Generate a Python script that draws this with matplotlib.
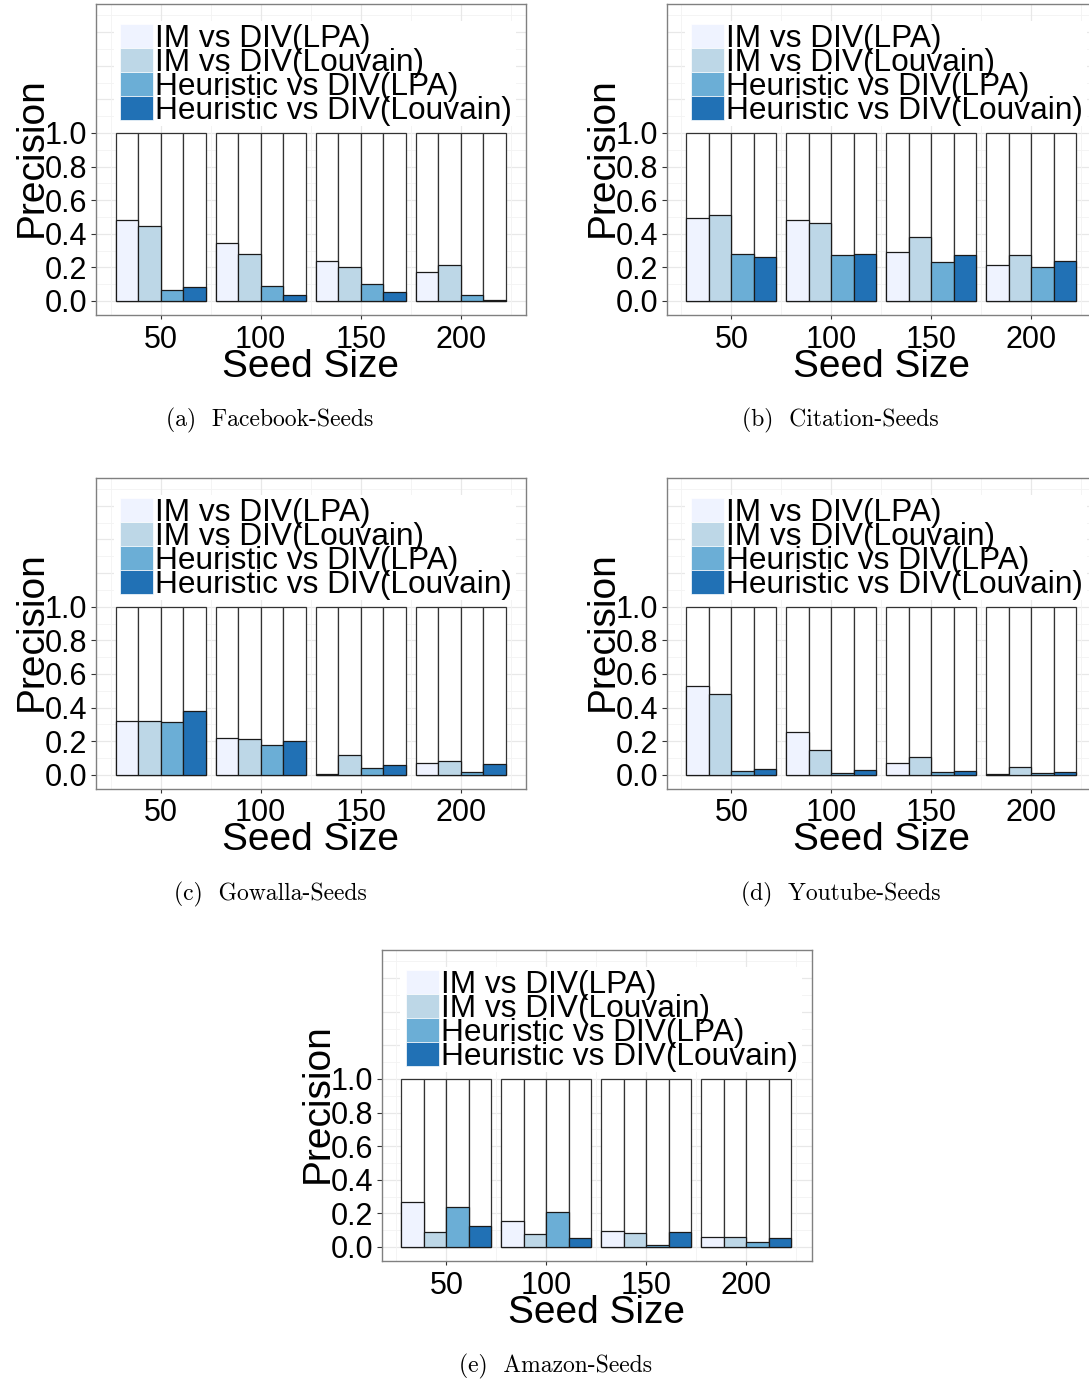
import matplotlib
matplotlib.use("Agg")
import matplotlib.pyplot as plt
from matplotlib.patches import Rectangle

# ---------------- data ----------------
seed_sizes = ["50", "100", "150", "200"]
series_names = ["IM vs DIV(LPA)", "IM vs DIV(Louvain)",
                "Heuristic vs DIV(LPA)", "Heuristic vs DIV(Louvain)"]
series_colors = ["#EFF3FF", "#BDD7E7", "#6BAED6", "#2171B5"]

# rows: seed sizes 50,100,150,200 ; columns: the four series
facebook = [[0.485, 0.447, 0.063, 0.083],
            [0.343, 0.277, 0.089, 0.036],
            [0.238, 0.202, 0.103, 0.051],
            [0.170, 0.212, 0.036, 0.008]]
citation = [[0.497, 0.509, 0.281, 0.263],
            [0.481, 0.463, 0.273, 0.277],
            [0.291, 0.378, 0.232, 0.271],
            [0.212, 0.271, 0.202, 0.240]]
gowalla = [[0.317, 0.321, 0.313, 0.380],
           [0.220, 0.210, 0.174, 0.202],
           [0.004, 0.117, 0.040, 0.059],
           [0.071, 0.081, 0.018, 0.063]]
youtube = [[0.529, 0.479, 0.024, 0.034],
           [0.255, 0.149, 0.008, 0.030],
           [0.071, 0.103, 0.014, 0.022],
           [0.004, 0.044, 0.010, 0.018]]
amazon = [[0.265, 0.091, 0.240, 0.127],
          [0.154, 0.075, 0.210, 0.051],
          [0.093, 0.083, 0.010, 0.087],
          [0.059, 0.059, 0.028, 0.051]]

captions = ["(a)  Facebook-Seeds", "(b)  Citation-Seeds", "(c)  Gowalla-Seeds",
            "(d)  Youtube-Seeds", "(e)  Amazon-Seeds"]
datasets = [facebook, citation, gowalla, youtube, amazon]
yticks = [0.0, 0.2, 0.4, 0.6, 0.8, 1.0]
ytick_labels = ["0.0", "0.2", "0.4", "0.6", "0.8", "1.0"]

# ---------------- layout (pixels) ----------------
W, H = 1089, 1380
PW, PH = 430, 311
panels = [(96, 4), (666.7, 4), (96, 477.7), (666.7, 477.7), (381.7, 950)]

SANS = "Liberation Sans"
fig = plt.figure(figsize=(W / 100, H / 100), dpi=100)
fig.patch.set_facecolor("white")

y_lo, y_hi = -14 / 168, 297 / 168
x_lo = 1 - 64.7 / 100
x_hi = x_lo + PW / 100


def ax_frac(ax_left, ax_top, px, py):
    return (px - ax_left) / PW, 1 - (py - ax_top) / PH


for (L, T), data, cap in zip(panels, datasets, captions):
    ax = fig.add_axes([L / W, 1 - (T + PH) / H, PW / W, PH / H])
    ax.set_xlim(x_lo, x_hi)
    ax.set_ylim(y_lo, y_hi)
    ax.set_facecolor("white")

    # grid
    for i in range(0, 18):
        yv = i * 0.1
        major = (i % 2 == 0)
        ax.axhline(yv, color="#e8e8e8" if major else "#f3f3f3",
                   lw=0.9 if major else 0.6, zorder=0)
    for i in range(1, 10):
        xv = i * 0.5
        major = (i % 2 == 0)
        ax.axvline(xv, color="#e8e8e8" if major else "#f3f3f3",
                   lw=0.9 if major else 0.6, zorder=0)

    # bars
    width = 0.225
    for g, row in enumerate(data):
        for k, v in enumerate(row):
            xc = (g + 1) - 0.45 + width * (k + 0.5)
            ax.bar(xc, 1.0, width=width, color="white", edgecolor="#333333",
                   linewidth=0.9, zorder=2)
            ax.bar(xc, v, width=width, color=series_colors[k], edgecolor="#1a1a1a",
                   linewidth=0.9, zorder=3)

    # axes styling
    for s in ax.spines.values():
        s.set_color("#808080")
        s.set_linewidth(1.0)
    ax.set_xticks([1, 2, 3, 4])
    ax.set_xticklabels(seed_sizes, fontsize=22, family=SANS)
    ax.set_yticks(yticks)
    ax.set_yticklabels(ytick_labels, fontsize=22, family=SANS)
    ax.tick_params(axis="x", length=2.9, width=0.8, color="#333333", pad=4.0)
    ax.tick_params(axis="y", length=3.6, width=0.8, color="#333333", pad=2.5)

    # legend (inside panel)
    bx0, by0 = ax_frac(L, T, L + 18, T + 17)
    bx1, by1 = ax_frac(L, T, L + 420, T + 122)
    ax.add_patch(Rectangle((bx0, by1), bx1 - bx0, by0 - by1, transform=ax.transAxes,
                           facecolor="white", edgecolor="none", zorder=4))
    for i, (name, col) in enumerate(zip(series_names, series_colors)):
        ktop = T + 20 + 24 * i
        kx0, ky0 = ax_frac(L, T, L + 24, ktop)
        kx1, ky1 = ax_frac(L, T, L + 57, ktop + 24)
        ax.add_patch(Rectangle((kx0, ky1), kx1 - kx0, ky0 - ky1, transform=ax.transAxes,
                               facecolor=col, edgecolor="white", linewidth=0.5,
                               zorder=5))
        tx, ty = ax_frac(L, T, L + 59, ktop + 23)
        ax.text(tx, ty, name, transform=ax.transAxes, fontsize=22.8, family=SANS,
                ha="left", va="baseline", zorder=6, clip_on=False)

    # axis titles
    fig.text((L + 215) / W, 1 - (T + 372.7) / H, "Seed Size", fontsize=28,
             family=SANS, ha="center", va="baseline")
    fig.text((L - 54.3) / W, 1 - (T + 153.5) / H, "Precision", fontsize=28,
             family=SANS, ha="center", va="baseline", rotation=90,
             rotation_mode="anchor")
    # caption
    fig.text((L + 174) / W, 1 - (T + 422.7) / H, cap, fontsize=17,
             family=["cmr10", "DejaVu Serif"], ha="center", va="baseline")

fig.savefig("out.png", dpi=100, facecolor="white")
